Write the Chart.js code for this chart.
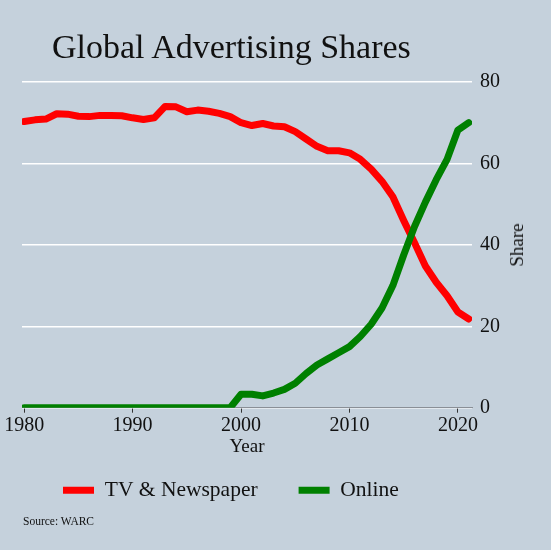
<!DOCTYPE html>
<html>
<head>
<meta charset="utf-8">
<script src="https://cdn.jsdelivr.net/npm/chart.js@4"></script>
<style>
  html, body { margin: 0; padding: 0; background: #c5d1dc; }
  #wrap { position: relative; width: 551px; height: 550px; background: #c5d1dc; }
  #title { position: absolute; left: 52px; top: 28px; font: 34px "Liberation Serif", serif; color: #111; white-space: nowrap; }
  #source { position: absolute; left: 23px; top: 515px; font: 11.5px "Liberation Serif", serif; color: #111; }
  #ylab { position: absolute; left: 517px; top: 245px; font: 19px "Liberation Serif", serif; color: #111;
          transform: translate(-50%, -50%) rotate(-90deg); white-space: nowrap; }
</style>
</head>
<body>
<div id="wrap">
  <canvas id="chartShares" width="551" height="550"></canvas>
  <div id="title">Global Advertising Shares</div>
  <div id="ylab">Share</div>
  <div id="source">Source: WARC</div>
</div>
<script>
const years = [1980,1981,1982,1983,1984,1985,1986,1987,1988,1989,
  1990,1991,1992,1993,1994,1995,1996,1997,1998,1999,
  2000,2001,2002,2003,2004,2005,2006,2007,2008,2009,
  2010,2011,2012,2013,2014,2015,2016,2017,2018,2019,2020,2021];
const tvNews = [70.3,70.7,70.9,72.2,72.1,71.6,71.5,71.8,71.8,71.7,
  71.2,70.8,71.2,74.0,73.9,72.7,73.1,72.8,72.3,71.5,
  70.0,69.3,69.8,69.2,69.0,67.8,66.0,64.2,63.1,63.1,
  62.6,61.0,58.6,55.6,51.8,46.0,40.5,34.8,30.8,27.5,23.5,21.8];
const online = [0,0,0,0,0,0,0,0,0,0,
  0,0,0,0,0,0,0,0,0,0,
  3.3,3.3,2.9,3.6,4.5,6.0,8.4,10.5,12.0,13.5,
  15.0,17.5,20.5,24.5,30.0,37.5,44.5,50.5,56.0,61.0,68.2,70.0];
const xTicks = [1980, 1990, 2000, 2010, 2020];
const yTicks = [0, 20, 40, 60, 80];

const serif = '"Liberation Serif", serif';
const toPoints = vals => years.map((yr, i) => ({x: yr, y: vals[i]}));

new Chart(document.getElementById('chartShares'), {
  type: 'line',
  data: {
    datasets: [
      {
        label: 'TV & Newspaper',
        data: toPoints(tvNews),
        borderColor: '#ff0000',
        backgroundColor: '#ff0000',
        borderWidth: 7,
        borderCapStyle: 'round',
        borderJoinStyle: 'round',
        pointRadius: 0,
        order: 1
      },
      {
        label: 'Online',
        data: toPoints(online),
        borderColor: '#008000',
        backgroundColor: '#008000',
        borderWidth: 7,
        borderCapStyle: 'round',
        borderJoinStyle: 'round',
        pointRadius: 0,
        order: 0
      }
    ]
  },
  options: {
    responsive: false,
    animation: false,
    layout: { padding: { top: 82, left: 22, right: 43, bottom: 39 } },
    plugins: {
      tooltip: { enabled: false },
      legend: {
        position: 'bottom',
        align: 'start',
        fullSize: false,
        labels: {
          boxWidth: 31,
          boxHeight: 7,
          padding: 41,
          color: '#111',
          font: { family: serif, size: 21.5 },
          generateLabels: chart => chart.data.datasets.map((ds, i) => ({
            text: ds.label,
            fillStyle: ds.borderColor,
            strokeStyle: ds.borderColor,
            lineWidth: 0,
            hidden: false,
            datasetIndex: i,
            fontColor: '#111'
          }))
        }
      }
    },
    scales: {
      x: {
        type: 'linear',
        min: 1979.8,
        max: 2021.3,
        afterBuildTicks: scale => { scale.ticks = xTicks.map(v => ({value: v})); },
        grid: { drawOnChartArea: false, tickLength: 5, tickColor: '#333', tickWidth: 1 },
        border: { display: true, color: '#8a8f96', width: 1 },
        ticks: { color: '#111', padding: 1, font: { family: serif, size: 20 }, callback: v => String(v) },
        title: {
          display: true,
          text: 'Year',
          color: '#111',
          font: { family: serif, size: 19 },
          padding: { top: -3, bottom: -20 }
        }
      },
      y: {
        position: 'right',
        min: 0,
        max: 80,
        afterBuildTicks: scale => { scale.ticks = yTicks.map(v => ({value: v})); },
        grid: { color: '#ffffff', lineWidth: 1.5, drawTicks: false },
        border: { display: false },
        ticks: { color: '#111', padding: 8, font: { family: serif, size: 20 } }
      }
    }
  }
});
</script>
</body>
</html>
